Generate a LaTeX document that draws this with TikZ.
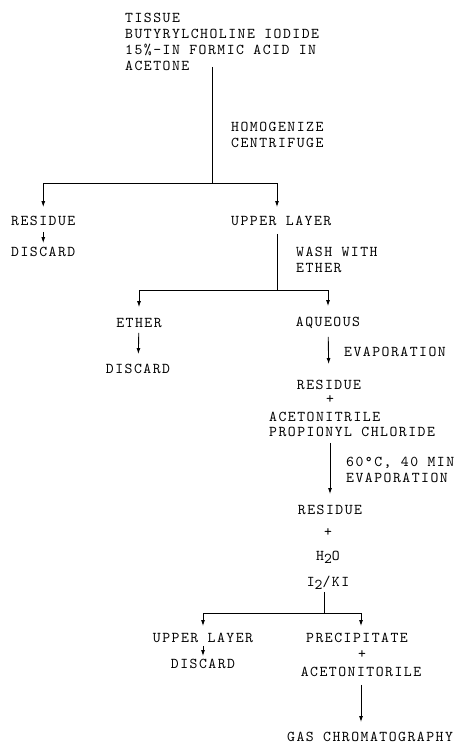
\documentclass[tikz,border=0pt]{standalone}
\usepackage{fontspec}
\usetikzlibrary{arrows.meta,positioning}
\newfontfamily\typewr{lmmono10-regular}[Extension=.otf,LetterSpace=10]
\tikzset{
  txt/.style={font=\typewr\fontsize{15}{16}\selectfont, inner xsep=1pt, inner ysep=2pt, align=left},
  ln/.style={line width=0.9pt},
  arr/.style={ln, -{Latex[length=6pt,width=4pt]}}}

\begin{document}
\begin{tikzpicture}[x=1pt,y=-1pt]
  \useasboundingbox (0,0) rectangle (459,744);
  % start
  \node[txt, anchor=west] (tissue) at (124,42) {TISSUE\\BUTYRYLCHOLINE IODIDE\\15\%-IN FORMIC ACID IN\\ACETONE};
  \node[txt, anchor=west] (homog) at (230,135) {HOMOGENIZE\\CENTRIFUGE};
  \coordinate (hub1) at (212,183);
  \node[txt, anchor=west] (res1) at (10,221) {RESIDUE};
  \node[txt, anchor=west] (upper1) at (230,221) {UPPER LAYER};
  \node[txt, anchor=west] (disc1) at (10,252) {DISCARD};
  % ether wash
  \node[txt, anchor=west] (wash) at (295,260) {WASH WITH\\ETHER};
  \coordinate (hub2) at (277,290);
  \node[txt] (ether) at (139,323) {ETHER};
  \node[txt] (aqueous) at (328,323) {AQUEOUS};
  \node[txt] (disc2) at (138,369) {DISCARD};
  \node[txt, anchor=west] (evap1) at (343,352) {EVAPORATION};
  % derivatization
  \node[txt] (res2) at (329,385) {RESIDUE};
  \node[txt] (plus1) at (330,400) {+};
  \node[txt, anchor=west] (acn1) at (268,417) {ACETONITRILE};
  \node[txt, anchor=west] (prop) at (268,432) {PROPIONYL CHLORIDE};
  \node[txt, anchor=west] (evap2) at (345,470) {60°C, 40 MIN\\EVAPORATION};
  \node[txt] (res3) at (330,510) {RESIDUE};
  \node[txt] (plus2) at (328,533) {+};
  \node[txt] (water) at (328,557) {H\raisebox{-3pt}{2}O};
  \node[txt] (iodine) at (328,583) {I\raisebox{-3pt}{2}/KI};
  \coordinate (hub3) at (324,613);
  % final split
  \node[txt] (upper2) at (203,638) {UPPER LAYER};
  \node[txt] (disc3) at (203,664) {DISCARD};
  \node[txt] (precip) at (357,638) {PRECIPITATE};
  \node[txt] (plus3) at (362,655) {+};
  \node[txt] (acn2) at (361,672) {ACETONITORILE};
  \node[txt] (gas) at (370,737) {GAS CHROMATOGRAPHY};

  \draw[ln, shorten <=-6pt] (tissue.south -| hub1) -- (hub1);
  \draw[arr, shorten >=7pt] (hub1) -| (res1.north);
  \draw[arr, shorten >=7pt] (hub1) -| (upper1.north -| hub2);
  \draw[arr, shorten <=4pt, shorten >=2pt] (res1) -- (disc1);
  \draw[ln, shorten <=6pt] (upper1.south -| hub2) -- (hub2);
  \draw[arr, shorten >=9pt] (hub2) -| (ether.north);
  \draw[arr, shorten >=9pt] (hub2) -| (aqueous.north);
  \draw[arr, shorten <=3pt, shorten >=8pt] (ether) -- (disc2);
  \draw[arr, shorten <=6pt, shorten >=14pt] (aqueous) -- (res2);
  \draw[arr, shorten <=4pt, shorten >=9pt] (prop.south -| res3) -- (res3);
  \draw[ln] (iodine.south -| hub3) -- (hub3);
  \draw[arr, shorten >=5pt] (hub3) -| (upper2.north);
  \draw[arr, shorten >=5pt] (hub3) -| (precip.north -| acn2);
  \draw[arr, shorten <=1pt, shorten >=1pt] (upper2) -- (disc3);
  \draw[arr, shorten <=6pt, shorten >=8pt] (acn2) -- (gas.north -| acn2);
\end{tikzpicture}
\end{document}
